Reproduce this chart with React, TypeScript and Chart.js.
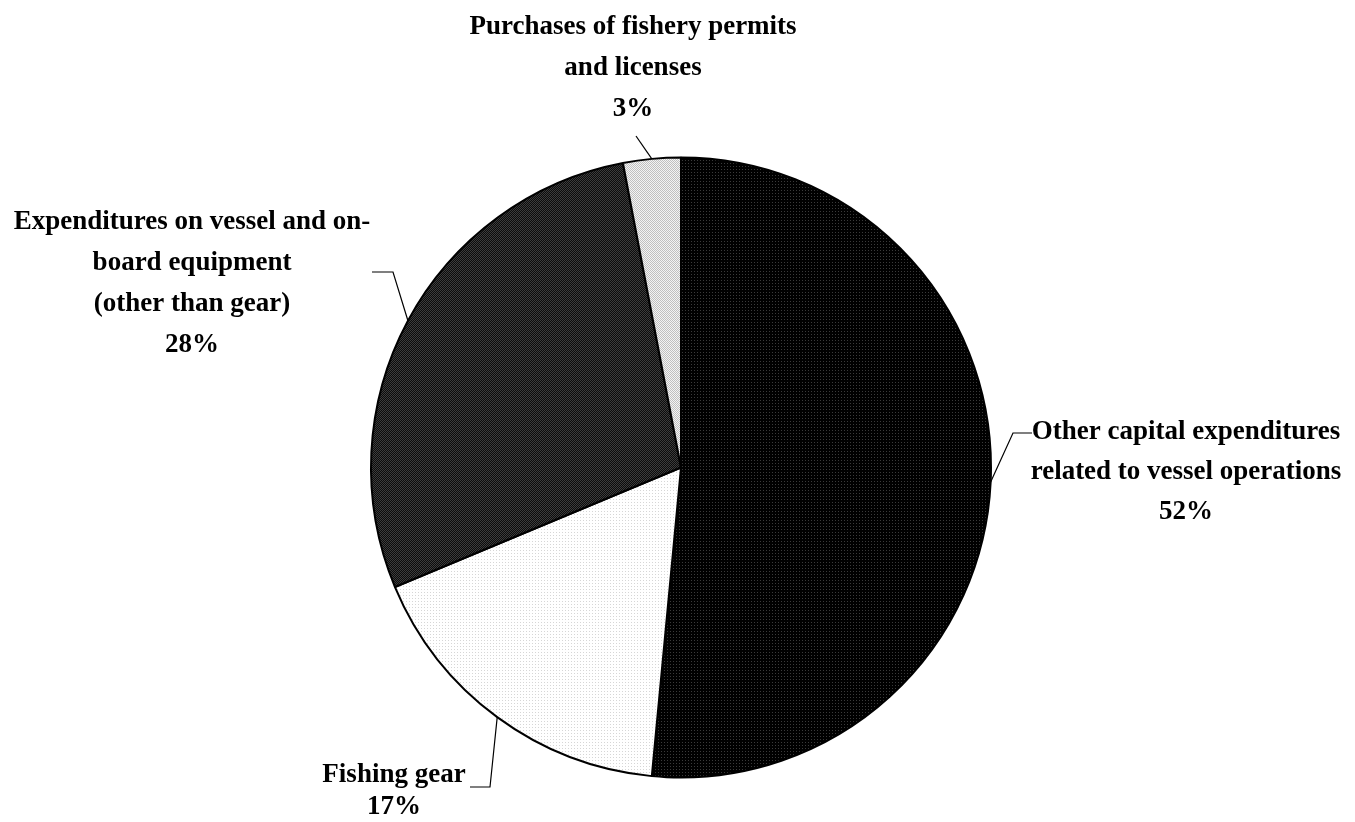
import React, { useEffect, useRef } from "react";
import { Chart, registerables } from "chart.js";

Chart.register(...registerables);

const categories = [
  "Other capital expenditures related to vessel operations",
  "Fishing gear",
  "Expenditures on vessel and on-board equipment (other than gear)",
  "Purchases of fishery permits and licenses",
];
const values = [51.5, 17.2, 28.3, 3.0];
const percentLabels = ["52%", "17%", "28%", "3%"];
const labelLines = [
  ["Other capital expenditures", "related to vessel operations"],
  ["Fishing gear"],
  ["Expenditures on vessel and on-", "board equipment", "(other than gear)"],
  ["Purchases of fishery permits", "and licenses"],
];

// label layout (text center x, first line y, line height, leader elbow & end)
const labelLayout = [
  { cx: 1186, top: 432, lh: 40, elbow: [1013, 433], end: [1032, 433] },
  { cx: 394, top: 775, lh: 32, elbow: [490, 787], end: [470, 787] },
  { cx: 192, top: 222, lh: 41, elbow: [393, 272], end: [372, 272] },
  { cx: 633, top: 27, lh: 41, elbow: null, end: [636, 136] },
];

function makePattern(size: number, bg: string, fg: string, cells: number[][]) {
  const c = document.createElement("canvas");
  c.width = size;
  c.height = size;
  const g = c.getContext("2d")!;
  g.fillStyle = bg;
  g.fillRect(0, 0, size, size);
  g.fillStyle = fg;
  cells.forEach(([x, y]) => g.fillRect(x, y, 1, 1));
  return g.createPattern(c, "repeat")!;
}

const labelPlugin = {
  id: "pieLabels",
  afterDraw(chart: any) {
    const ctx = chart.ctx;
    const meta = chart.getDatasetMeta(0);
    ctx.save();
    ctx.font = "bold 27px 'Liberation Serif', 'Times New Roman', serif";
    ctx.fillStyle = "#000";
    ctx.textAlign = "center";
    ctx.textBaseline = "middle";
    meta.data.forEach((arc: any, i: number) => {
      const L = labelLayout[i];
      const lines = [...labelLines[i], percentLabels[i]];
      lines.forEach((t, j) => ctx.fillText(t, L.cx, L.top + j * L.lh));
      const { x, y, startAngle, endAngle, outerRadius } = arc.getProps(
        ["x", "y", "startAngle", "endAngle", "outerRadius"],
        true
      );
      const mid = (startAngle + endAngle) / 2;
      const ax = x + Math.cos(mid) * outerRadius;
      const ay = y + Math.sin(mid) * outerRadius;
      ctx.beginPath();
      ctx.strokeStyle = "#000";
      ctx.lineWidth = 1.2;
      ctx.moveTo(ax, ay);
      if (L.elbow) ctx.lineTo(L.elbow[0], L.elbow[1]);
      ctx.lineTo(L.end[0], L.end[1]);
      ctx.stroke();
    });
    ctx.restore();
  },
};

export default function App() {
  const ref = useRef<HTMLCanvasElement>(null);
  useEffect(() => {
    if (!ref.current) return;
    const patterns = [
      makePattern(3, "#000000", "#3a3a3a", [[1, 1]]),
      makePattern(3, "#ffffff", "#d6d6d6", [[1, 1]]),
      makePattern(2, "#0c0c0c", "#3c3c3c", [[0, 0], [1, 1]]),
      makePattern(2, "#f4f4f4", "#c0c0c0", [[0, 0], [1, 1]]),
    ];
    const chart = new Chart(ref.current, {
      type: "pie",
      data: {
        labels: categories,
        datasets: [
          {
            data: values,
            backgroundColor: patterns,
            borderColor: "#000",
            borderWidth: 2,
          },
        ],
      },
      options: {
        animation: false,
        responsive: true,
        maintainAspectRatio: false,
        radius: 310,
        layout: { padding: { left: 57, right: 50, top: 143, bottom: 30 } },
        plugins: {
          legend: { display: false },
          tooltip: { enabled: false },
        },
      },
      plugins: [labelPlugin],
    });
    return () => chart.destroy();
  }, []);
  return (
    <div style={{ position: "fixed", left: 0, top: 0, width: 1355, height: 822, background: "#fff" }}>
      <canvas ref={ref} />
    </div>
  );
}
